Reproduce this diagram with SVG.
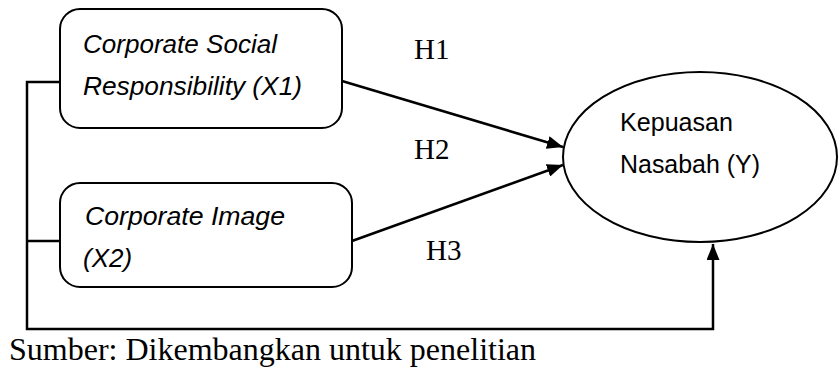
<svg xmlns="http://www.w3.org/2000/svg" width="838" height="368" viewBox="0 0 838 368">
<style>
.box{fill:#fff;stroke:#000;stroke-width:2}
.lbl{font-family:"Liberation Sans",Arial,sans-serif;font-size:26px;fill:#000}
.it{font-style:italic}
.h{font-family:"Liberation Serif","Times New Roman",serif;font-size:29px;fill:#000}
.src{font-family:"Liberation Serif","Times New Roman",serif;font-size:32px;fill:#000}
.con{fill:none;stroke:#000;stroke-width:2.5}
</style>
<defs>
<marker id="ah" markerUnits="userSpaceOnUse" markerWidth="17" markerHeight="13" refX="16" refY="6.5" orient="auto">
<path d="M0,0 L16,6.5 L0,13 z" fill="#000"/>
</marker>
</defs>
<rect width="838" height="368" fill="#fff"/>
<g id="connectors">
<polyline class="con" points="60,82 27,82 27,329 713,329 713,244" marker-end="url(#ah)"/>
<line class="con" x1="27" y1="241" x2="60" y2="241"/>
<line class="con" x1="342" y1="81" x2="563" y2="147" marker-end="url(#ah)"/>
<line class="con" x1="352" y1="241" x2="563" y2="165" marker-end="url(#ah)"/>
</g>
<g id="x1">
<rect class="box" x="60" y="9" width="282" height="119" rx="20" ry="20"/>
<text class="lbl it" x="83" y="53" textLength="194" lengthAdjust="spacingAndGlyphs">Corporate Social</text>
<text class="lbl it" x="83" y="95" textLength="219" lengthAdjust="spacingAndGlyphs">Responsibility (X1)</text>
</g>
<g id="x2">
<rect class="box" x="60" y="183" width="292" height="104" rx="20" ry="20"/>
<text class="lbl it" x="85" y="225" textLength="200" lengthAdjust="spacingAndGlyphs">Corporate Image</text>
<text class="lbl it" x="83" y="267">(X2)</text>
</g>
<g id="y">
<ellipse class="box" cx="700" cy="157" rx="137" ry="85"/>
<text class="lbl" x="620" y="131" textLength="113" lengthAdjust="spacingAndGlyphs">Kepuasan</text>
<text class="lbl" x="620" y="173" textLength="140" lengthAdjust="spacingAndGlyphs">Nasabah (Y)</text>
</g>
<g id="labels">
<text class="h" x="414" y="59">H1</text>
<text class="h" x="414" y="159">H2</text>
<text class="h" x="426" y="260">H3</text>
<text class="src" x="9" y="360">Sumber: Dikembangkan untuk penelitian</text>
</g>
</svg>
